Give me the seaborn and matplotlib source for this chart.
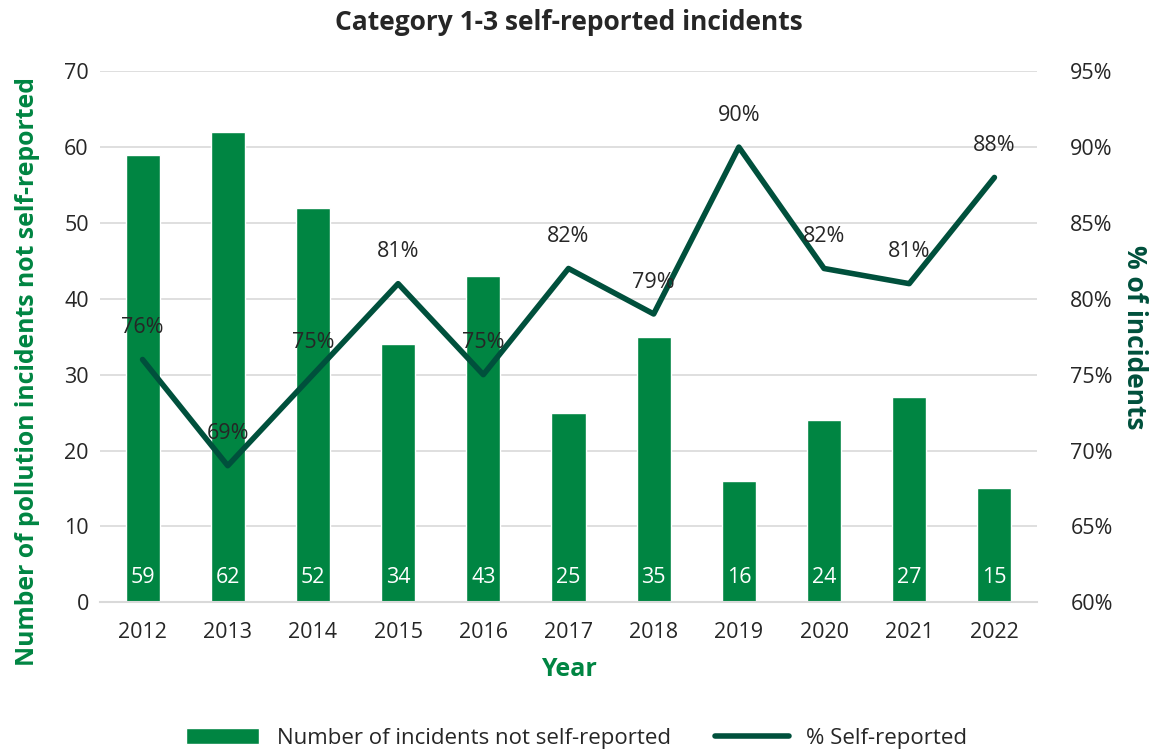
import numpy as np
import pandas as pd
import seaborn as sns
import matplotlib
import matplotlib.pyplot as plt
from matplotlib.patches import Patch
from matplotlib.lines import Line2D

sns.set_style("white")
plt.rcParams['font.family'] = ['Open Sans', 'DejaVu Sans']

years = ['2012', '2013', '2014', '2015', '2016', '2017', '2018', '2019', '2020', '2021', '2022']
not_self_reported = [59, 62, 52, 34, 43, 25, 35, 16, 24, 27, 15]
pct_self_reported = [76, 69, 75, 81, 75, 82, 79, 90, 82, 81, 88]

bar_green = '#008542'
line_green = '#00503c'
grid_grey = '#d9d9d9'
tick_fs = 15.5

df = pd.DataFrame({'Year': years, 'count': not_self_reported, 'pct': pct_self_reported})

fig = plt.figure(figsize=(11.53, 7.5), dpi=100)
ax = fig.add_axes([0.0867, 0.197, 0.8127, 0.708])

sns.barplot(data=df, x='Year', y='count', color=bar_green, width=0.4,
            saturation=1, ax=ax)
ax.set_ylim(0, 70)
ax.set_yticks(range(0, 71, 10))
ax.set_xlim(-0.5, len(years) - 0.5)
ax.yaxis.grid(True, color=grid_grey, linewidth=1.2)
ax.set_axisbelow(True)
for s in ['top', 'right', 'left']:
    ax.spines[s].set_visible(False)
ax.spines['bottom'].set_color(grid_grey)
ax.spines['bottom'].set_linewidth(1.5)
ax.tick_params(axis='x', which='major', length=0, pad=14, labelsize=tick_fs)
ax.set_xticks(np.arange(-0.5, len(years), 1), minor=True)
ax.tick_params(axis='x', which='minor', length=8, color=grid_grey, width=1.5)
ax.tick_params(axis='y', length=0, pad=8, labelsize=tick_fs)

for i, v in enumerate(not_self_reported):
    ax.text(i, 3.2, str(v), color='white', ha='center', va='center', fontsize=tick_fs)

ax.set_xlabel('Year', fontsize=18, fontweight='bold', color=bar_green, labelpad=10)
ax.set_ylabel('Number of pollution incidents not self-reported', fontsize=17.8,
              fontweight='bold', color=bar_green)
ax.yaxis.set_label_coords(-0.064, 0.435)

ax2 = ax.twinx()
sns.lineplot(x=np.arange(len(years)), y=pct_self_reported, color=line_green,
             linewidth=4, ax=ax2)
ax2.set_ylim(60, 95)
ax2.set_yticks(range(60, 96, 5))
ax2.set_yticklabels([f'{t}%' for t in range(60, 96, 5)])
ax2.tick_params(axis='y', length=0, pad=24, labelsize=tick_fs)
for s in ['top', 'right', 'left', 'bottom']:
    ax2.spines[s].set_visible(False)
ax2.set_ylabel('% of incidents', fontsize=19, fontweight='bold', color=line_green,
               rotation=270)
ax2.yaxis.set_label_coords(1.118, 0.5)

for i, v in enumerate(pct_self_reported):
    ax2.annotate(f'{v}%', (i, v), xytext=(0, 23), textcoords='offset points',
                 ha='center', va='center', fontsize=tick_fs)

ax.set_title('Category 1-3 self-reported incidents', fontsize=19,
             fontweight='bold', pad=30)

handles = [Patch(facecolor=bar_green, label='Number of incidents not self-reported'),
           Line2D([0], [0], color=line_green, linewidth=4, label='% Self-reported')]
fig.legend(handles=handles, loc='lower center', ncol=2, frameon=False,
           fontsize=16, bbox_to_anchor=(0.5, -0.025), handlelength=3.3,
           columnspacing=2.0)

fig.savefig('out.png', dpi=100)
